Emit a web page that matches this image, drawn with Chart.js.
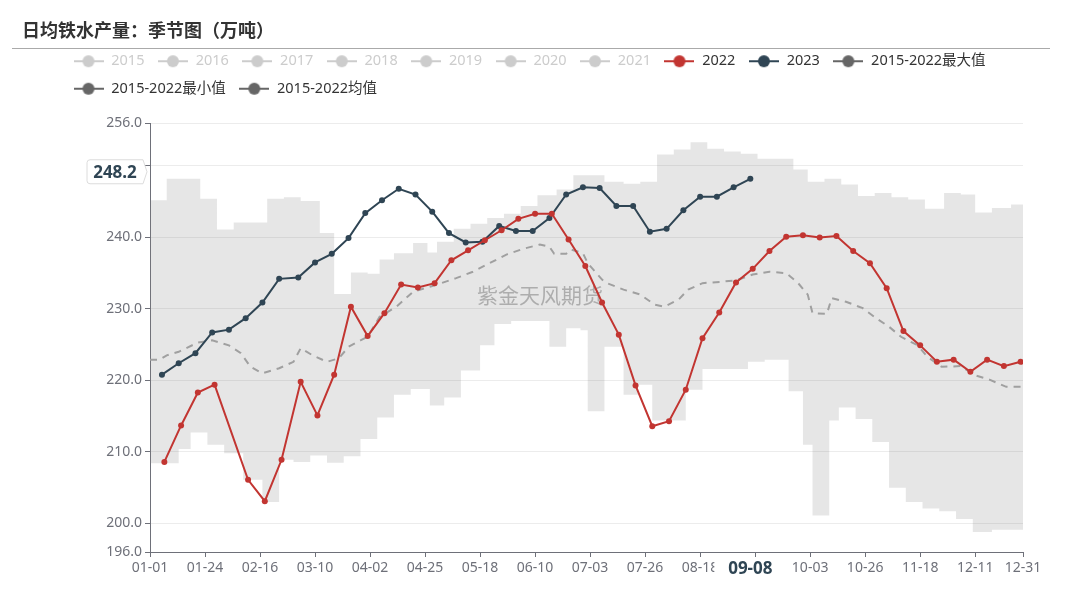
<!DOCTYPE html>
<html>
<head>
<meta charset="utf-8">
<script src="https://cdn.jsdelivr.net/npm/chart.js@4.4.0/dist/chart.umd.min.js"></script>
<style>
  html, body { margin: 0; padding: 0; background: #fff; }
  #wrap { position: relative; width: 1080px; height: 603px; overflow: hidden; }
  #chart { position: absolute; left: 0; top: 0; }
  #title { position: absolute; left: 22px; top: 16px; line-height: 22px; font: bold 18px 'Noto Sans CJK SC', sans-serif; color: #333; }
  #rule { position: absolute; left: 12px; top: 48px; width: 1038px; height: 1px; background: #aaa; }
</style>
</head>
<body>
<div id="wrap">
  <canvas id="chart" width="1080" height="603"></canvas>
  <div id="title">日均铁水产量：季节图（万吨）</div>
  <div id="rule"></div>
</div>
<script>
// 数据（按闰年日历的 月-日 定位）
const hiddenYears = ['2015', '2016', '2017', '2018', '2019', '2020', '2021'];

const dates2022 = ['01-07','01-14','01-21','01-28','02-11','02-18','02-25','03-04','03-11','03-18',
  '03-25','04-01','04-08','04-15','04-22','04-29','05-06','05-13','05-20','05-27',
  '06-03','06-10','06-17','06-24','07-01','07-08','07-15','07-22','07-29','08-05',
  '08-12','08-19','08-26','09-02','09-09','09-16','09-23','09-30','10-07','10-14',
  '10-21','10-28','11-04','11-11','11-18','11-25','12-02','12-09','12-16','12-23','12-30'];
const values2022 = [208.6, 213.7, 218.3, 219.4, 206.1, 203.1, 208.9, 219.8, 215.1, 220.8,
  230.3, 226.2, 229.4, 233.4, 233.0, 233.6, 236.8, 238.2, 239.6, 241.0,
  242.6, 243.3, 243.3, 239.7, 236.0, 230.9, 226.4, 219.3, 213.6, 214.3,
  218.7, 225.9, 229.5, 233.7, 235.6, 238.1, 240.1, 240.3, 240.0, 240.2,
  238.1, 236.4, 232.9, 226.9, 224.9, 222.6, 222.9, 221.2, 222.9, 222.0, 222.6];

const dates2023 = ['01-06','01-13','01-20','01-27','02-03','02-10','02-17','02-24','03-03','03-10',
  '03-17','03-24','03-31','04-07','04-14','04-21','04-28','05-05','05-12','05-19',
  '05-26','06-02','06-09','06-16','06-23','06-30','07-07','07-14','07-21','07-28',
  '08-04','08-11','08-18','08-25','09-01','09-08'];
const values2023 = [220.8, 222.4, 223.8, 226.7, 227.1, 228.7, 230.9, 234.2, 234.4, 236.5,
  237.7, 239.9, 243.4, 245.2, 246.8, 246.0, 243.6, 240.6, 239.3, 239.4,
  241.6, 240.9, 240.9, 242.7, 246.0, 247.0, 246.9, 244.4, 244.4, 240.8,
  241.2, 243.8, 245.7, 245.7, 247.0, 248.2];

// 最大值：每个日期起生效，直到下一个日期
const maxDates = ['01-01','01-08','01-22','01-29','02-05','02-19','02-26','03-04','03-12','03-18',
  '03-25','04-01','04-06','04-12','04-20','04-26','04-30','05-07','05-14','05-21',
  '05-28','06-04','06-11','06-19','06-26','07-09','07-17','07-24','07-31','08-07',
  '08-14','08-21','08-28','09-04','09-11','09-26','10-02','10-09','10-16','10-23',
  '10-30','11-06','11-13','11-20','11-28','12-05','12-11','12-18','12-26','12-31'];
const maxValues = [245.2, 248.2, 245.4, 241.1, 242.1, 245.4, 245.6, 245.1, 240.6, 232.1,
  235.1, 234.9, 236.9, 237.8, 239.2, 237.9, 239.4, 241.2, 241.9, 242.7,
  243.3, 244.4, 245.9, 246.7, 248.7, 247.8, 247.5, 247.8, 251.6, 252.3,
  253.3, 252.4, 252.0, 251.7, 251.0, 249.5, 247.8, 248.2, 247.4, 245.8,
  246.2, 245.6, 245.3, 244.0, 246.2, 246.0, 243.5, 244.1, 244.6, 244.6];

const minDates = ['01-01','01-13','01-18','01-25','02-01','02-09','02-17','02-24','03-01','03-08',
  '03-15','03-22','03-29','04-05','04-12','04-19','04-27','05-03','05-10','05-18',
  '05-24','05-31','06-16','06-23','06-29','07-02','07-09','07-17','07-23','07-29',
  '08-12','08-19','09-07','09-14','09-24','09-30','10-04','10-11','10-15','10-22',
  '10-29','11-05','11-12','11-19','11-26','12-03','12-10','12-18','12-31'];
const minValues = [208.4, 210.4, 212.7, 211.0, 209.8, 206.1, 203.0, 208.9, 208.6, 209.5,
  208.5, 209.4, 211.8, 214.8, 218.0, 218.8, 216.5, 217.6, 221.4, 224.9,
  227.9, 228.3, 224.7, 227.3, 227.0, 215.7, 224.7, 218.0, 219.4, 214.4,
  218.7, 221.6, 222.6, 222.9, 218.5, 211.0, 201.1, 214.4, 216.2, 214.6,
  211.4, 205.0, 203.0, 202.1, 201.7, 200.6, 198.8, 199.1, 199.1];

const meanDates = ['01-01','01-05','01-08','01-13','01-21','01-27','02-03','02-08','02-12','02-17',
  '02-24','03-01','03-04','03-09','03-15','03-20','03-24','03-29','04-01','04-06',
  '04-13','04-20','04-27','04-30','05-08','05-15','05-22','05-29','06-05','06-12',
  '06-16','06-18','06-23','06-25','06-30','07-02','07-08','07-10','07-17','07-24',
  '07-30','08-03','08-09','08-13','08-19','08-27','09-02','09-09','09-16','09-23',
  '09-28','10-02','10-04','10-10','10-12','10-18','10-25','10-31','11-05','11-10',
  '11-17','11-21','11-27','12-05','12-11','12-17','12-24','12-30','12-31'];
const meanValues = [222.9, 222.9, 223.5, 224.0, 225.3, 225.6, 224.9, 223.8, 221.9, 221.0,
  221.7, 222.6, 224.5, 223.5, 222.6, 223.1, 224.7, 225.6, 226.1, 228.9,
  230.3, 232.4, 233.1, 233.4, 234.3, 235.2, 236.4, 237.6, 238.4, 239.0,
  238.7, 237.7, 237.7, 238.3, 237.8, 236.4, 234.1, 233.6, 232.7, 232.0,
  230.6, 230.3, 231.3, 232.7, 233.6, 233.8, 234.0, 234.8, 235.2, 235.0,
  233.6, 232.0, 229.4, 229.3, 231.5, 231.0, 230.1, 228.6, 227.5, 226.1,
  224.9, 223.3, 221.9, 222.0, 220.7, 220.1, 219.1, 219.1, 219.8];

const xTickLabels = ['01-01','01-24','02-16','03-10','04-02','04-25','05-18','06-10','07-03',
  '07-26','08-18','09-10','10-03','10-26','11-18','12-11','12-31'];
const yTickValues = [196, 200, 210, 220, 230, 240, 250, 256];

const pointerDate = '09-08';
const pointerValue = 248.2;

const FONT = "'Noto Sans', 'Noto Sans CJK SC', sans-serif";
const AXIS_COLOR = '#6e7079';
const RED = '#c23531';
const SLATE = '#2f4554';

// 月-日 转为闰年中的第几天（0 起）
const monthStart = [0, 31, 60, 91, 121, 152, 182, 213, 244, 274, 305, 335];
function dayOf(md) {
  const [m, d] = md.split('-').map(Number);
  return monthStart[m - 1] + d - 1;
}
function toPoints(dates, values) {
  return dates.map((d, i) => ({ x: dayOf(d), y: values[i] }));
}
const xTickDays = xTickLabels.map(dayOf);

// 图例图标：横线 + 圆点
function legendIcon(color) {
  const c = document.createElement('canvas');
  c.width = 30; c.height = 14;
  const g = c.getContext('2d');
  g.strokeStyle = color; g.lineWidth = 2;
  g.beginPath(); g.moveTo(0, 7); g.lineTo(30, 7); g.stroke();
  g.fillStyle = color;
  g.beginPath(); g.arc(15, 7, 6, 0, Math.PI * 2); g.fill();
  return c;
}

const datasets = hiddenYears.map(y => ({
  label: y, data: [], iconColor: '#ccc', textColor: '#ccc'
}));
datasets.push({
  label: '2022', data: toPoints(dates2022, values2022),
  borderColor: RED, backgroundColor: RED, borderWidth: 2,
  pointRadius: 3, pointBorderWidth: 0, order: 0,
  iconColor: RED, textColor: '#333'
});
datasets.push({
  label: '2023', data: toPoints(dates2023, values2023),
  borderColor: SLATE, backgroundColor: SLATE, borderWidth: 2,
  pointRadius: 3, pointBorderWidth: 0, order: 0,
  iconColor: SLATE, textColor: '#333'
});
datasets.push({
  label: '2015-2022最大值', data: toPoints(maxDates, maxValues),
  stepped: 'before', borderWidth: 0, borderColor: 'rgba(0,0,0,0)',
  backgroundColor: 'rgba(128,128,128,0.2)', pointRadius: 0, fill: '+1', order: 3,
  iconColor: '#666', textColor: '#333'
});
datasets.push({
  label: '2015-2022最小值', data: toPoints(minDates, minValues),
  stepped: 'before', borderWidth: 0, borderColor: 'rgba(0,0,0,0)',
  pointRadius: 0, fill: false, order: 3,
  iconColor: '#666', textColor: '#333'
});
datasets.push({
  label: '2015-2022均值', data: toPoints(meanDates, meanValues),
  borderColor: '#a0a0a0', borderWidth: 2, borderDash: [7, 6],
  pointRadius: 0, fill: false, order: 2,
  iconColor: '#666', textColor: '#333'
});
const bandIndex = datasets.findIndex(d => d.label === '2015-2022最大值');

// 固定图例高度，让绘图区顶部对齐
const legendHeight = {
  id: 'legendHeight',
  beforeInit(chart) {
    const fit = chart.legend.fit;
    chart.legend.fit = function () {
      fit.call(this);
      this.height = 82;
    };
  }
};

// 水印，画在区间带之后、折线之前
const watermark = {
  id: 'watermark',
  afterDatasetDraw(chart, args) {
    if (args.index !== bandIndex) return;
    const ctx = chart.ctx;
    ctx.save();
    ctx.font = "21px 'Noto Sans CJK SC', sans-serif";
    ctx.fillStyle = 'rgba(150,150,150,0.7)';
    ctx.textAlign = 'center';
    ctx.textBaseline = 'middle';
    ctx.fillText('紫金天风期货', chart.width / 2, chart.height / 2 - 6);
    ctx.restore();
  }
};

// 坐标轴指示器标签（09-08 / 248.2）
const axisPointer = {
  id: 'axisPointer',
  afterDraw(chart) {
    const { ctx, scales } = chart;
    const px = scales.x.getPixelForValue(dayOf(pointerDate));
    const py = scales.y.getPixelForValue(pointerValue) - 7;
    ctx.save();
    ctx.font = "bold 17px " + FONT;
    ctx.textBaseline = 'middle';
    ctx.textAlign = 'center';

    // y 轴标签
    const right = scales.y.right - 7;
    const left = right - 56;
    ctx.beginPath();
    ctx.moveTo(left + 3, py - 12);
    ctx.lineTo(right, py - 12);
    ctx.lineTo(right + 4, py);
    ctx.lineTo(right, py + 12);
    ctx.lineTo(left + 3, py + 12);
    ctx.quadraticCurveTo(left, py + 12, left, py + 9);
    ctx.lineTo(left, py - 9);
    ctx.quadraticCurveTo(left, py - 12, left + 3, py - 12);
    ctx.closePath();
    ctx.fillStyle = '#fff';
    ctx.fill();
    ctx.strokeStyle = '#dcdcdc';
    ctx.lineWidth = 1;
    ctx.stroke();
    ctx.fillStyle = SLATE;
    ctx.fillText(pointerValue.toFixed(1), (left + right) / 2, py + 1);

    // x 轴标签
    const ty = scales.x.top + 16;
    ctx.fillStyle = '#fff';
    ctx.fillRect(px - 36, ty - 11, 72, 24);
    ctx.fillStyle = SLATE;
    ctx.fillText(pointerDate, px, ty + 1);
    ctx.restore();
  }
};

Chart.defaults.font.family = FONT;

new Chart(document.getElementById('chart'), {
  type: 'line',
  data: { datasets },
  plugins: [legendHeight, watermark, axisPointer],
  options: {
    responsive: false,
    animation: false,
    layout: { padding: { top: 41, left: 60, right: 57, bottom: 0 } },
    scales: {
      x: {
        type: 'linear',
        min: 0,
        max: 365,
        afterBuildTicks: s => { s.ticks = xTickDays.map(v => ({ value: v })); },
        afterFit: s => { s.height = 51; },
        ticks: {
          autoSkip: false,
          maxRotation: 0,
          padding: 3,
          color: AXIS_COLOR,
          font: { size: 14 },
          callback: v => xTickLabels[xTickDays.indexOf(v)]
        },
        grid: { drawOnChartArea: false, tickLength: 5, tickColor: AXIS_COLOR },
        border: { color: AXIS_COLOR, width: 1 }
      },
      y: {
        min: 196,
        max: 256,
        afterBuildTicks: s => { s.ticks = yTickValues.map(v => ({ value: v })); },
        afterFit: s => { s.width = 90; },
        ticks: {
          padding: 3,
          color: AXIS_COLOR,
          font: { size: 14 },
          callback: v => Number(v).toFixed(1)
        },
        grid: { color: '#ececec', tickLength: 5, tickColor: AXIS_COLOR },
        border: { color: AXIS_COLOR, width: 1 }
      }
    },
    plugins: {
      tooltip: { enabled: false },
      legend: {
        position: 'top',
        align: 'start',
        labels: {
          usePointStyle: true,
          pointStyleWidth: 31,
          padding: 13,
          font: { size: 14.5 },
          generateLabels: chart => chart.data.datasets.map((ds, i) => ({
            text: ds.label,
            pointStyle: legendIcon(ds.iconColor),
            fillStyle: ds.iconColor,
            strokeStyle: ds.iconColor,
            lineWidth: 0,
            fontColor: ds.textColor,
            hidden: false,
            datasetIndex: i
          }))
        }
      }
    }
  }
});
</script>
</body>
</html>
